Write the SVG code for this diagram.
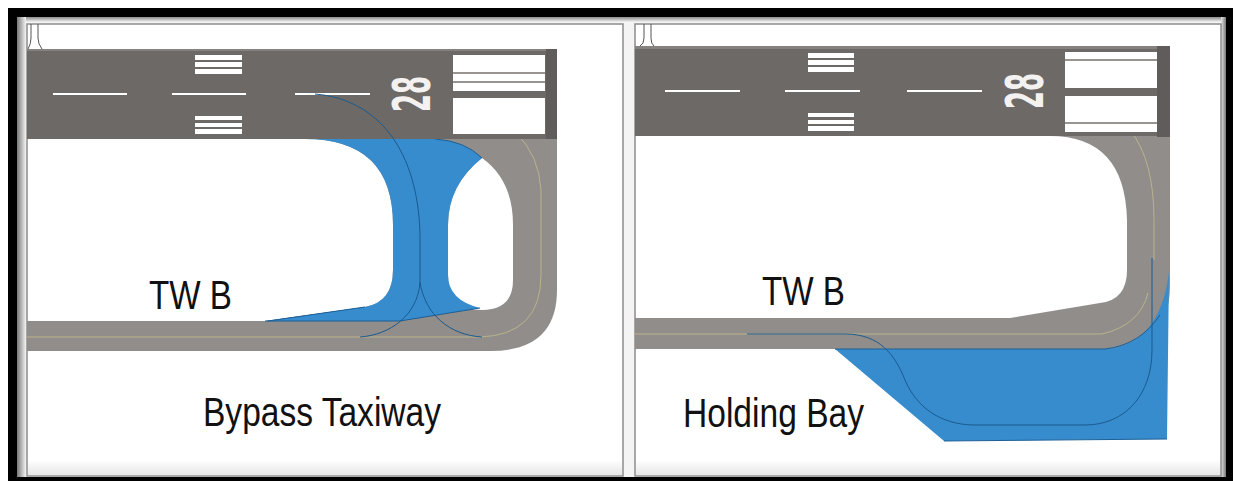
<svg xmlns="http://www.w3.org/2000/svg" width="1233" height="482" viewBox="0 0 1233 482">
<defs>
<linearGradient id="gl" x1="0" x2="1" y1="0" y2="0"><stop offset="0" stop-color="#777"/><stop offset="1" stop-color="#f4f4f4"/></linearGradient>
<linearGradient id="gr" x1="0" x2="1" y1="0" y2="0"><stop offset="0" stop-color="#e8e8e8"/><stop offset="1" stop-color="#777"/></linearGradient>
<linearGradient id="gt" x1="0" x2="0" y1="0" y2="1"><stop offset="0" stop-color="#8a8a8a"/><stop offset="1" stop-color="#f4f4f4"/></linearGradient>
<linearGradient id="fade" x1="0" x2="0" y1="0" y2="1"><stop offset="0" stop-color="#fff"/><stop offset="1" stop-color="#e6e6e6"/></linearGradient>
</defs>
<style>
.rw{fill:#6d6966}
.rwtop{fill:#85817f}
.tw{fill:#918d8a}
.end{fill:#5f5c5b}
.blue{fill:#368ccd}
.bl{fill:none;stroke:#1b5a8e;stroke-width:1}
.edge{fill:none;stroke:#1d5f96;stroke-width:1}
.ye{fill:none;stroke:#b9b48a;stroke-width:1}
.wh{fill:#fff}
.dash{stroke:#fff;stroke-width:2;fill:none}
.bar{fill:#fff}
.rule{stroke:#77726f;stroke-width:1.500}
.pan{fill:#fff;stroke:#8c8c8c;stroke-width:1.500}
.fade{fill:url(#fade)}
.hold{fill:none;stroke:#555;stroke-width:1}
text{font-family:"Liberation Sans",Arial,sans-serif;fill:#111}
.lbl{font-size:41px}
.num{font-size:52px;font-weight:700;fill:#f4f2f0;font-family:"DejaVu Sans",sans-serif}
</style>
<rect width="1233" height="482" fill="#fff"/>
<rect x="8" y="8" width="1225" height="473" fill="#000"/>
<rect x="17" y="17" width="1209" height="460" fill="#f4f4f4"/>
<rect x="17" y="17" width="1209" height="5" fill="url(#gt)"/>
<rect x="17" y="17" width="9" height="460" fill="url(#gl)"/>
<rect x="1221" y="17" width="5" height="460" fill="url(#gr)"/>

<g id="panel-left">
<rect class="pan" x="27" y="24" width="596" height="452"/>
<rect class="fade" x="28" y="460" width="594" height="15"/>
<path class="hold" d="M31 24V38Q31 44 28 49M38 24V38Q38 44 42 49"/>
<path class="tw" d="M27 321H265L365 307Q393 302 393 270V225Q393 139 305 139H557V290Q557 351 490 351H27Z"/>
<path class="wh" d="M482 158Q513 180 513 225V280Q513 310 482 310Q448 310 448 275V225Q448 185 482 158Z"/>
<path class="blue" d="M305 139H435Q465 141 482 158Q448 185 448 225V275Q448 300 480 308L400 321H265L365 307Q393 302 393 270V225Q393 139 305 139Z"/>
<path class="edge" d="M265 321H400M365 307L268 321M400 321L480 308M435 139Q465 141 482 158"/>
<path class="ye" d="M27 337H480Q541 335 541 275V190Q539 155 516 133M436 94L465 98"/>
<rect class="rw" x="27" y="49" width="530" height="90"/>
<rect class="rwtop" x="27" y="49" width="530" height="2"/>
<rect class="end" x="546" y="49" width="11" height="90"/>
<rect class="wh" x="453" y="55" width="92" height="36"/>
<rect class="wh" x="453" y="98" width="92" height="36"/>
<path class="rule" d="M453 73H545M453 82H545"/>
<path class="dash" d="M53 94H127M172 94H246M295 94H370"/>
<path class="bar" d="M195 55h47v5h-47zM195 62h47v5h-47zM195 69h47v5h-47zM195 116h47v4h-47zM195 123h47v4h-47zM195 129h47v5h-47z"/>
<text class="num" transform="translate(430 112) rotate(-90) scale(0.5 1)">28</text>
<path class="bl" d="M315 94C385 100 420 160 420 240V282C418 315 390 335 360 337M420 282C425 315 450 335 482 337"/>
<text class="lbl" x="149" y="308.500" textLength="83" lengthAdjust="spacingAndGlyphs">TW B</text>
<text class="lbl" x="203" y="425.500" textLength="238" lengthAdjust="spacingAndGlyphs">Bypass Taxiway</text>
</g>

<g id="panel-right">
<rect class="pan" x="635" y="24" width="586" height="452"/>
<rect class="fade" x="636" y="460" width="584" height="15"/>
<path class="hold" d="M644 24V38Q644 44 640 46M651 24V38Q651 44 654 46"/>
<path class="tw" d="M635 318H1010L1100 303Q1127 300 1127 270V220Q1125 136 1050 136H1170V285Q1170 349 1105 349H635Z"/>
<path class="blue" d="M835 349H1105Q1160 345 1169 272L1167 439L944 441Z"/>
<path class="edge" d="M835 349H1105Q1140 345 1160 315M944 441L1167 439"/>
<path class="ye" d="M635 334H1102Q1140 325 1148 293M1130 130Q1154 160 1154 220V260M1054 92L1076 95"/>
<rect class="rw" x="635" y="46" width="535" height="90"/>
<rect class="rwtop" x="635" y="46" width="535" height="3"/>
<rect class="end" x="1157" y="46" width="13" height="91"/>
<rect class="wh" x="1065" y="52" width="92" height="36"/>
<rect class="wh" x="1065" y="96" width="92" height="36"/>
<path class="rule" d="M1065 60H1157M1065 123H1157"/>
<path class="dash" d="M665 91H740M785 91H860M907 91H982"/>
<path class="bar" d="M808 53h46v5h-46zM808 60h46v5h-46zM808 67h46v5h-46zM808 113h46v4h-46zM808 120h46v4h-46zM808 126h46v5h-46z"/>
<text class="num" transform="translate(1043 109) rotate(-90) scale(0.5 1)">28</text>
<path class="bl" d="M747 334H845C880 334 895 355 905 380C920 415 950 425 975 425H1085C1125 425 1152 395 1152 350V258"/>
<text class="lbl" x="762" y="305" textLength="83" lengthAdjust="spacingAndGlyphs">TW B</text>
<text class="lbl" x="683" y="427" textLength="181" lengthAdjust="spacingAndGlyphs">Holding Bay</text>
</g>
</svg>
